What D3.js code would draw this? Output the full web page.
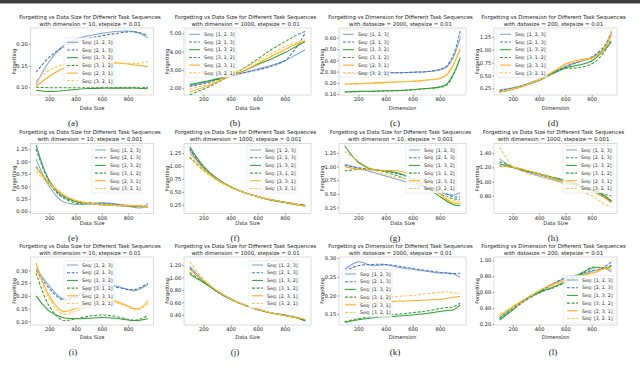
<!DOCTYPE html>
<html><head><meta charset="utf-8">
<script src="https://cdn.jsdelivr.net/npm/d3@7"></script>
<style>
body{margin:0;background:#fff}
svg{display:block;font-family:"DejaVu Sans",sans-serif}
</style></head><body>
<svg id="chart" width="640" height="374"></svg>
<script>
// x positions (data size or dimension) shared by all curves
var xs = [100, 200, 300, 400, 500, 600, 700, 800, 850, 900, 950];
var seqNames = ["Seq: [1, 2, 3]", "Seq: [2, 1, 3]", "Seq: [1, 3, 2]", "Seq: [3, 1, 2]", "Seq: [2, 3, 1]", "Seq: [3, 2, 1]"];
var seqColor = ["#7aa3d6", "#3f72b4", "#2ca02c", "#3a9a3a", "#ffa914", "#ffc24a"];
var seqDash = [null, "3,1.6", null, "3,1.6", null, "3,1.6"];

// one row per sequence, same order as seqNames
var valuesA = [
  [0.108, 0.160, 0.195, 0.212, 0.220, 0.226, 0.230, 0.231, 0.229, 0.224, 0.215],
  [0.135, 0.170, 0.192, 0.205, 0.214, 0.220, 0.225, 0.229, 0.229, 0.226, 0.220],
  [0.093, 0.090, 0.092, 0.095, 0.097, 0.098, 0.098, 0.098, 0.098, 0.097, 0.098],
  [0.100, 0.099, 0.099, 0.099, 0.099, 0.099, 0.099, 0.100, 0.100, 0.099, 0.100],
  [0.103, 0.125, 0.143, 0.153, 0.157, 0.158, 0.157, 0.154, 0.152, 0.150, 0.148],
  [0.115, 0.140, 0.152, 0.157, 0.158, 0.158, 0.156, 0.155, 0.155, 0.157, 0.160]
];
var valuesB = [
  [2.15, 2.30, 2.50, 2.70, 2.85, 3.05, 3.25, 3.50, 3.70, 3.90, 4.10],
  [2.10, 2.25, 2.45, 2.65, 2.85, 3.00, 3.20, 3.50, 3.90, 4.40, 5.00],
  [2.20, 2.35, 2.50, 2.70, 2.95, 3.30, 3.60, 3.95, 4.15, 4.35, 4.55],
  [1.65, 1.95, 2.30, 2.70, 3.10, 3.60, 4.10, 4.55, 4.75, 4.95, 5.10],
  [1.80, 2.05, 2.35, 2.65, 2.95, 3.35, 3.75, 4.10, 4.30, 4.45, 4.60],
  [1.95, 2.15, 2.40, 2.75, 3.10, 3.50, 3.90, 4.25, 4.40, 4.55, 4.65]
];
var valuesC = [
  [0.290, 0.290, 0.290, 0.290, 0.290, 0.295, 0.300, 0.315, 0.340, 0.430, 0.600],
  [0.280, 0.285, 0.290, 0.290, 0.290, 0.295, 0.300, 0.320, 0.350, 0.450, 0.660],
  [0.120, 0.125, 0.127, 0.130, 0.133, 0.140, 0.150, 0.165, 0.190, 0.280, 0.420],
  [0.120, 0.123, 0.125, 0.128, 0.132, 0.140, 0.150, 0.160, 0.180, 0.270, 0.430],
  [0.190, 0.195, 0.200, 0.205, 0.210, 0.215, 0.225, 0.240, 0.270, 0.360, 0.500],
  [0.185, 0.190, 0.195, 0.200, 0.210, 0.215, 0.225, 0.245, 0.280, 0.370, 0.520]
];
var valuesD = [
  [0.22, 0.26, 0.33, 0.42, 0.55, 0.68, 0.76, 0.84, 0.92, 1.05, 1.30],
  [0.20, 0.25, 0.32, 0.41, 0.54, 0.66, 0.76, 0.86, 0.95, 1.08, 1.35],
  [0.18, 0.23, 0.31, 0.40, 0.53, 0.65, 0.70, 0.78, 0.88, 1.00, 1.15],
  [0.19, 0.24, 0.32, 0.41, 0.53, 0.63, 0.65, 0.72, 0.82, 0.97, 1.20],
  [0.17, 0.23, 0.31, 0.41, 0.56, 0.72, 0.80, 0.84, 0.90, 1.02, 1.30],
  [0.18, 0.24, 0.32, 0.42, 0.57, 0.70, 0.78, 0.82, 0.90, 1.05, 1.38]
];
var valuesE = [
  [1.05, 0.50, 0.20, 0.14, 0.15, 0.17, 0.15, 0.10, 0.08, 0.07, 0.16],
  [1.25, 0.60, 0.30, 0.20, 0.17, 0.16, 0.14, 0.12, 0.11, 0.10, 0.09],
  [1.33, 0.62, 0.32, 0.20, 0.16, 0.14, 0.12, 0.11, 0.10, 0.10, 0.09],
  [0.90, 0.55, 0.28, 0.17, 0.15, 0.13, 0.12, 0.11, 0.10, 0.10, 0.10],
  [0.88, 0.58, 0.35, 0.22, 0.17, 0.14, 0.12, 0.11, 0.11, 0.10, 0.08],
  [0.80, 0.55, 0.34, 0.22, 0.16, 0.13, 0.12, 0.12, 0.12, 0.12, 0.10]
];
var valuesF = [
  [1.30, 0.97, 0.75, 0.60, 0.49, 0.41, 0.35, 0.30, 0.28, 0.26, 0.25],
  [1.33, 0.98, 0.75, 0.60, 0.49, 0.41, 0.35, 0.30, 0.28, 0.26, 0.24],
  [1.37, 1.00, 0.76, 0.60, 0.49, 0.41, 0.34, 0.29, 0.27, 0.25, 0.23],
  [1.17, 0.92, 0.73, 0.59, 0.49, 0.41, 0.35, 0.30, 0.28, 0.26, 0.24],
  [1.25, 0.95, 0.74, 0.60, 0.49, 0.41, 0.35, 0.30, 0.28, 0.25, 0.22],
  [1.15, 0.91, 0.73, 0.59, 0.49, 0.41, 0.35, 0.30, 0.28, 0.26, 0.24]
];
var valuesG = [
  [1.05, 0.97, 0.90, 0.83, 0.76, 0.68, 0.60, 0.52, 0.49, 0.48, 0.52],
  [1.02, 0.98, 0.95, 0.92, 0.86, 0.78, 0.68, 0.55, 0.50, 0.45, 0.44],
  [1.38, 1.08, 0.95, 0.92, 0.88, 0.78, 0.62, 0.45, 0.37, 0.30, 0.28],
  [0.92, 0.95, 0.95, 0.90, 0.82, 0.72, 0.62, 0.50, 0.45, 0.41, 0.40],
  [1.00, 0.95, 0.94, 0.93, 0.92, 0.85, 0.72, 0.50, 0.40, 0.33, 0.32],
  [1.28, 1.10, 0.95, 0.85, 0.80, 0.75, 0.65, 0.52, 0.45, 0.38, 0.36]
];
var valuesH = [
  [1.32, 1.20, 1.14, 1.08, 1.03, 0.98, 0.93, 0.87, 0.83, 0.78, 0.72],
  [1.22, 1.20, 1.15, 1.10, 1.05, 1.00, 0.95, 0.88, 0.84, 0.79, 0.73],
  [1.25, 1.20, 1.15, 1.11, 1.06, 1.02, 0.96, 0.89, 0.85, 0.80, 0.72],
  [1.28, 1.21, 1.16, 1.11, 1.06, 1.01, 0.95, 0.88, 0.85, 0.82, 0.80],
  [1.22, 1.20, 1.16, 1.11, 1.05, 0.99, 0.93, 0.87, 0.82, 0.77, 0.70],
  [1.48, 1.22, 1.12, 1.07, 1.02, 0.96, 0.88, 0.80, 0.74, 0.68, 0.65]
];
var valuesI = [
  [0.310, 0.240, 0.190, 0.200, 0.230, 0.245, 0.240, 0.225, 0.220, 0.230, 0.245],
  [0.300, 0.230, 0.185, 0.195, 0.225, 0.240, 0.235, 0.225, 0.225, 0.235, 0.250],
  [0.200, 0.140, 0.115, 0.110, 0.112, 0.115, 0.112, 0.105, 0.103, 0.105, 0.110],
  [0.290, 0.160, 0.105, 0.110, 0.120, 0.125, 0.120, 0.108, 0.104, 0.110, 0.125],
  [0.330, 0.200, 0.140, 0.150, 0.175, 0.190, 0.180, 0.160, 0.150, 0.155, 0.180],
  [0.310, 0.190, 0.130, 0.140, 0.165, 0.180, 0.175, 0.155, 0.145, 0.150, 0.170]
];
var valuesJ = [
  [1.18, 0.95, 0.78, 0.65, 0.56, 0.48, 0.43, 0.40, 0.37, 0.35, 0.31],
  [1.15, 0.94, 0.77, 0.65, 0.56, 0.49, 0.43, 0.40, 0.38, 0.35, 0.32],
  [1.05, 0.92, 0.78, 0.66, 0.56, 0.49, 0.43, 0.39, 0.37, 0.34, 0.30],
  [1.08, 0.93, 0.78, 0.66, 0.56, 0.49, 0.43, 0.39, 0.37, 0.35, 0.31],
  [1.13, 0.95, 0.79, 0.66, 0.56, 0.49, 0.43, 0.39, 0.37, 0.35, 0.33],
  [1.25, 0.98, 0.79, 0.66, 0.56, 0.49, 0.43, 0.39, 0.37, 0.36, 0.33]
];
var valuesK = [
  [0.270, 0.290, 0.280, 0.282, 0.275, 0.270, 0.265, 0.260, 0.260, 0.258, 0.248],
  [0.265, 0.280, 0.283, 0.283, 0.278, 0.272, 0.267, 0.262, 0.260, 0.258, 0.260],
  [0.128, 0.135, 0.140, 0.143, 0.145, 0.148, 0.152, 0.157, 0.160, 0.162, 0.175],
  [0.130, 0.138, 0.143, 0.147, 0.150, 0.154, 0.158, 0.165, 0.168, 0.170, 0.180],
  [0.180, 0.180, 0.182, 0.183, 0.185, 0.186, 0.188, 0.190, 0.192, 0.195, 0.198],
  [0.185, 0.190, 0.192, 0.195, 0.198, 0.200, 0.205, 0.208, 0.210, 0.207, 0.205]
];
var valuesL = [
  [0.28, 0.40, 0.50, 0.60, 0.70, 0.77, 0.80, 0.86, 0.88, 0.90, 0.85],
  [0.26, 0.38, 0.50, 0.60, 0.70, 0.78, 0.82, 0.87, 0.88, 0.92, 0.98],
  [0.25, 0.38, 0.52, 0.60, 0.66, 0.73, 0.82, 0.90, 0.91, 0.90, 0.92],
  [0.28, 0.40, 0.51, 0.59, 0.65, 0.72, 0.80, 0.91, 0.91, 0.89, 0.94],
  [0.30, 0.42, 0.52, 0.62, 0.70, 0.75, 0.80, 0.84, 0.86, 0.90, 0.88],
  [0.33, 0.40, 0.50, 0.62, 0.68, 0.75, 0.80, 0.83, 0.88, 0.93, 0.87]
];

var xTicks = [200, 400, 600, 800];
var ticksA = [0.10, 0.15, 0.20];
var ticksB = [2, 3, 4, 5];
var ticksC = [0.1, 0.2, 0.3, 0.4, 0.5, 0.6];
var ticksQuarter = [0, 0.25, 0.5, 0.75, 1.0, 1.25];
var ticksH = [0.8, 1.0, 1.2, 1.4];
var ticksI = [0.10, 0.15, 0.20, 0.25, 0.30];
var ticksJ = [0.4, 0.6, 0.8, 1.0, 1.2];
var ticksK = [0.15, 0.20, 0.25, 0.30];
var ticksL = [0.2, 0.4, 0.6, 0.8, 1.0];

var titleSize = "Forgetting vs Data Size for Different Task Sequences";
var titleDim = "Forgetting vs Dimension for Different Task Sequences";

var panels = [
  {v: valuesA, t1: titleSize, t2: "with dimension = 10, stepsize = 0.01", xl: "Data Size", cap: "(a)", yd: [0.082, 0.238], yt: ticksA, lg: [67, 42.3]},
  {v: valuesB, t1: titleSize, t2: "with dimension = 1000, stepsize = 0.01", xl: "Data Size", cap: "(b)", yd: [1.634, 5.29], yt: ticksB, lg: [189, 34.3]},
  {v: valuesC, t1: titleDim, t2: "with datasize = 2000, stepsize = 0.01", xl: "Dimension", cap: "(c)", yd: [0.093, 0.687], yt: ticksC, lg: [343, 34.3]},
  {v: valuesD, t1: titleDim, t2: "with datasize = 200, stepsize = 0.01", xl: "Dimension", cap: "(d)", yd: [0.12, 1.42], yt: ticksQuarter.slice(1), lg: [500, 34.3]},
  {v: valuesE, t1: titleSize, t2: "with dimension = 10, stepsize = 0.001", xl: "Data Size", cap: "(e)", yd: [-0.043, 1.363], yt: ticksQuarter, lg: [95, 150]},
  {v: valuesF, t1: titleSize, t2: "with dimension = 1000, stepsize = 0.001", xl: "Data Size", cap: "(f)", yd: [0.085, 1.433], yt: ticksQuarter.slice(1), lg: [250, 150]},
  {v: valuesG, t1: titleSize, t2: "with dimension = 10, stepsize = 0.001", xl: "Data Size", cap: "(g)", yd: [0.139, 1.425], yt: ticksQuarter.slice(1), lg: [409, 150]},
  {v: valuesH, t1: titleSize, t2: "with dimension = 1000, stepsize = 0.001", xl: "Data Size", cap: "(h)", yd: [0.552, 1.535], yt: ticksH, lg: [566, 150]},
  {v: valuesI, t1: titleSize, t2: "with dimension = 10, stepsize = 0.01", xl: "Data Size", cap: "(i)", yd: [0.0857, 0.353], yt: ticksI, lg: [67, 265]},
  {v: valuesJ, t1: titleSize, t2: "with dimension = 1000, stepsize = 0.01", xl: "Data Size", cap: "(j)", yd: [0.237, 1.33], yt: ticksJ, lg: [252, 265]},
  {v: valuesK, t1: titleDim, t2: "with datasize = 2000, stepsize = 0.01", xl: "Dimension", cap: "(k)", yd: [0.121, 0.303], yt: ticksK, lg: [345, 274]},
  {v: valuesL, t1: titleDim, t2: "with datasize = 200, stepsize = 0.01", xl: "Dimension", cap: "(l)", yd: [0.19, 1.04], yt: ticksL, lg: [567, 280]}
];

// layout of the 4x3 grid
var rows = [
  {top: 28, bottom: 95, t1: 19, t2: 25.5, xl: 109.5, cap: 126},
  {top: 143.5, bottom: 213.5, t1: 133.5, t2: 140.5, xl: 225, cap: 241},
  {top: 257, bottom: 325, t1: 248, t2: 255, xl: 338.5, cap: 355}
];
var cols = [
  {left: 30.5, right: 153.5, cap: 73},
  {left: 184, right: 311, cap: 235},
  {left: 339, right: 466, cap: 395},
  {left: 494, right: 617, cap: 553}
];

var svg = d3.select("#chart");
svg.append("rect").attr("width", 640).attr("height", 3.5).attr("fill", "#3d3d3d");

panels.forEach(function(p, i) {
  var r = rows[Math.floor(i / 4)], c = cols[i % 4];
  var x = d3.scaleLinear().domain([57.5, 992.5]).range([c.left, c.right]);
  var y = d3.scaleLinear().domain(p.yd).range([r.bottom, r.top]);
  var g = svg.append("g");

  g.append("rect")
    .attr("x", c.left).attr("y", r.top)
    .attr("width", c.right - c.left).attr("height", r.bottom - r.top)
    .attr("fill", "none").attr("stroke", "#c4c4c4").attr("stroke-width", 0.6);

  var xa = g.append("g").attr("transform", "translate(0," + r.bottom + ")")
    .call(d3.axisBottom(x).tickValues(xTicks).tickSize(1.8).tickPadding(1));
  var ya = g.append("g").attr("transform", "translate(" + c.left + ",0)")
    .call(d3.axisLeft(y).tickValues(p.yt).tickFormat(d3.format(".2f")).tickSize(1.8).tickPadding(1));
  [xa, ya].forEach(function(a) {
    a.select(".domain").remove();
    a.selectAll("line").attr("stroke", "#444").attr("stroke-width", 0.5);
    a.selectAll("text").attr("font-size", 5.1).attr("fill", "#222").attr("font-family", "DejaVu Sans");
  });

  var mid = (c.left + c.right) / 2 - 2;
  g.append("text").attr("x", mid).attr("y", r.t1).attr("text-anchor", "middle")
    .attr("font-size", 5.4).attr("fill", "#222").text(p.t1);
  g.append("text").attr("x", mid).attr("y", r.t2).attr("text-anchor", "middle")
    .attr("font-size", 5.4).attr("fill", "#222").text(p.t2);
  g.append("text").attr("x", mid + 2).attr("y", r.xl).attr("text-anchor", "middle")
    .attr("font-size", 5.2).attr("fill", "#222").text(p.xl);
  g.append("text").attr("transform", "translate(" + (c.left - 15) + "," + ((r.top + r.bottom) / 2) + ") rotate(-90)")
    .attr("text-anchor", "middle").attr("font-size", 5.0).attr("fill", "#222").text("Forgetting");
  g.append("text").attr("x", c.cap).attr("y", r.cap).attr("text-anchor", "middle")
    .attr("font-family", "Liberation Serif").attr("font-size", 9).attr("fill", "#222").text(p.cap);

  var line = d3.line()
    .x(function(d, j) { return x(xs[j]); })
    .y(function(d) { return y(d); })
    .curve(d3.curveCatmullRom);
  p.v.forEach(function(vals, k) {
    g.append("path").attr("d", line(vals))
      .attr("fill", "none").attr("stroke", seqColor[k]).attr("stroke-width", 1.05)
      .attr("stroke-dasharray", seqDash[k]);
  });

  // legend
  var lx = p.lg[0], ly = p.lg[1], step = 7.7;
  var lg = g.append("g");
  lg.append("rect").attr("x", lx - 3).attr("y", ly - 4.5)
    .attr("width", 50).attr("height", step * 5 + 9).attr("rx", 1)
    .attr("fill", "#fff").attr("fill-opacity", 0.8)
    .attr("stroke", "#ddd").attr("stroke-width", 0.5);
  seqNames.forEach(function(name, k) {
    var yy = ly + k * step;
    lg.append("line").attr("x1", lx).attr("x2", lx + 11).attr("y1", yy).attr("y2", yy)
      .attr("stroke", seqColor[k]).attr("stroke-width", 1.05).attr("stroke-dasharray", seqDash[k]);
    lg.append("text").attr("x", lx + 15).attr("y", yy + 1.7)
      .attr("font-size", 4.7).attr("fill", "#222").text(name);
  });
});
</script>
</body></html>
